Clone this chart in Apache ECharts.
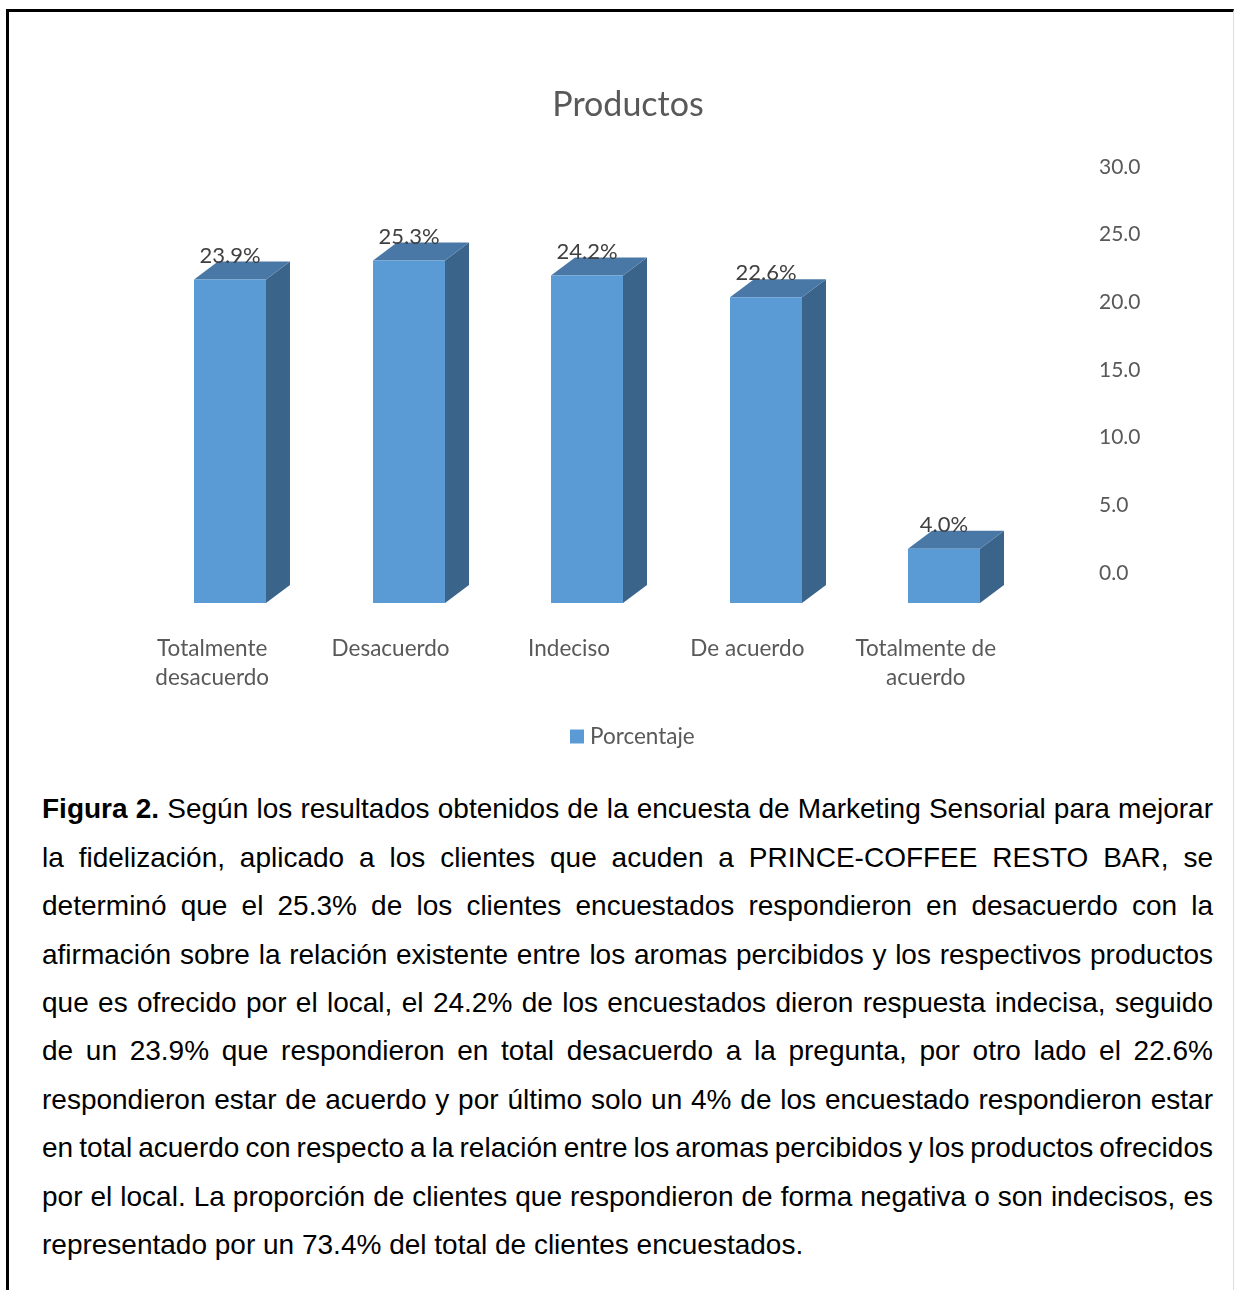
<!DOCTYPE html>
<html><head><meta charset="utf-8">
<script src="https://cdn.jsdelivr.net/npm/echarts@6/dist/echarts.min.js"></script>
<style>
html,body{margin:0;padding:0;background:#fff;width:1234px;height:1290px;overflow:hidden}
#frame{position:absolute;left:6px;top:9px;width:1228px;height:1290px;border-top:3px solid #000;border-left:3px solid #000;border-right:1px solid #ddd;box-sizing:border-box}
#main{position:absolute;left:0;top:0;width:1234px;height:790px}
.ln{position:absolute;left:42px;white-space:nowrap;font:28px/32px "Liberation Sans",Arial,sans-serif;color:#000}
</style></head>
<body>
<div id="frame"></div>
<div id="main"></div>
<div id="caption"></div>
<script>
const titleText = 'Productos';
const seriesName = 'Porcentaje';
const categories = ['Totalmente\ndesacuerdo', 'Desacuerdo', 'Indeciso', 'De acuerdo', 'Totalmente de\nacuerdo'];
const values = [23.9, 25.3, 24.2, 22.6, 4.0];
const captionLead = 'Figura 2.';
const captionLines = [
 ' Según los resultados obtenidos de la encuesta de Marketing Sensorial para mejorar',
 'la fidelización, aplicado a los clientes que acuden a PRINCE-COFFEE RESTO BAR, se',
 'determinó que el 25.3% de los clientes encuestados respondieron en desacuerdo con la',
 'afirmación sobre la relación existente entre los aromas percibidos y los respectivos productos',
 'que es ofrecido por el local, el 24.2% de los encuestados dieron respuesta indecisa, seguido',
 'de un 23.9% que respondieron en total desacuerdo a la pregunta, por otro lado el 22.6%',
 'respondieron estar de acuerdo y por último solo un 4% de los encuestado respondieron estar',
 'en total acuerdo con respecto a la relación entre los aromas percibidos y los productos ofrecidos',
 'por el local. La proporción de clientes que respondieron de forma negativa o son indecisos, es',
 'representado por un 73.4% del total de clientes encuestados.'
];

const FONT = 'Lato, Carlito, sans-serif';
const BAR_W = 72, DEPTH_X = 24, DEPTH_Y = 18, SHIFT_X = 18.15, SHIFT_Y = 30;

const chart = echarts.init(document.getElementById('main'));
chart.setOption({
  animation: false,
  title: { text: titleText, left: 628, top: 88, padding: 0, textAlign: 'center',
    textStyle: { fontFamily: FONT, fontSize: 34, fontWeight: 'normal', color: '#595959' } },
  legend: { data: [{ name: seriesName, icon: 'rect' }], left: 565, top: 720, itemWidth: 14, itemHeight: 14, itemGap: 6,
    textStyle: { fontFamily: FONT, fontSize: 22.5, color: '#595959', padding: [0, 0, 0, 1] } },
  grid: { left: 123, right: 219, top: 167, height: 406 },
  xAxis: { type: 'category', data: categories,
    axisLine: { show: false }, axisTick: { show: false },
    axisLabel: { interval: 0, margin: 61, fontFamily: FONT, fontSize: 22.5, lineHeight: 29, color: '#595959', align: 'center' } },
  yAxis: { type: 'value', position: 'right', min: 0, max: 30, interval: 5,
    axisLine: { show: false }, axisTick: { show: false }, splitLine: { show: false },
    axisLabel: { margin: 84, fontFamily: FONT, fontSize: 21, color: '#595959', formatter: v => v.toFixed(1) } },
  series: [{
    name: seriesName, type: 'custom', clip: false,
    itemStyle: { color: '#5B9BD5' },
    data: values.map((v, i) => [i, v]),
    renderItem(params, api) {
      const top = api.coord([api.value(0), api.value(1)]);
      const base = api.coord([api.value(0), 0]);
      const l = Math.round(top[0] + SHIFT_X - BAR_W / 2), r = l + BAR_W;
      const t = top[1] + SHIFT_Y, b = base[1] + SHIFT_Y;
      return { type: 'group', children: [
        { type: 'polygon', shape: { points: [[r, b], [r + DEPTH_X, b - DEPTH_Y], [r + DEPTH_X, t - DEPTH_Y], [r, t]] }, style: { fill: '#3A6489' } },
        { type: 'polygon', shape: { points: [[l, t], [l + DEPTH_X, t - DEPTH_Y], [r + DEPTH_X, t - DEPTH_Y], [r, t]] }, style: { fill: '#4A78A6' } },
        { type: 'rect', shape: { x: l, y: t, width: BAR_W, height: b - t }, style: { fill: '#5B9BD5' } },
        { type: 'text', style: { x: (l + r) / 2, y: t - 24, text: api.value(1).toFixed(1) + '%', align: 'center', verticalAlign: 'middle',
            font: '22px ' + FONT, fill: '#404040' } }
      ] };
    }
  }]
});

const lineTops = [793, 842, 890, 939, 987, 1035, 1084, 1132, 1181, 1229];
const LEFT = 42, RIGHT = 1213;
const host = document.getElementById('caption');
captionLines.forEach((text, i) => {
  const d = document.createElement('div');
  d.className = 'ln';
  d.style.top = lineTops[i] + 'px';
  if (i === 0) { const b = document.createElement('b'); b.textContent = captionLead; d.appendChild(b); }
  d.appendChild(document.createTextNode(text));
  host.appendChild(d);
  if (i < captionLines.length - 1) {
    const gaps = (d.textContent.match(/ /g) || []).length;
    const w = d.getBoundingClientRect().width;
    d.style.wordSpacing = ((RIGHT - LEFT - w) / gaps) + 'px';
  }
});
</script>
</body></html>
